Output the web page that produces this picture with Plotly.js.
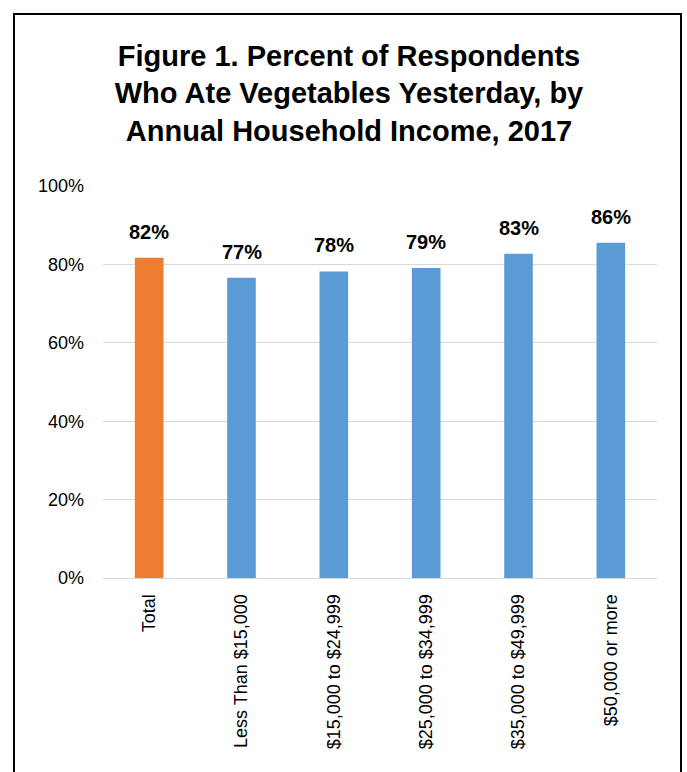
<!DOCTYPE html>
<html>
<head>
<meta charset="utf-8">
<script src="https://cdn.plot.ly/plotly-3.0.1.min.js"></script>
<style>
  body { margin: 0; padding: 0; background: #fff; }
  #wrap { position: relative; width: 687px; height: 772px; overflow: hidden; }
  #chart { position: absolute; left: 0; top: 0; width: 687px; height: 772px; }
  #frame { position: absolute; left: 13px; top: 13px; width: 665px; height: 800px; border: 2px solid #000; pointer-events: none; }
</style>
</head>
<body>
<div id="wrap">
  <div id="chart"></div>
  <div id="frame"></div>
</div>
<script>
const categories = ["Total", "Less Than $15,000", "$15,000 to $24,999", "$25,000 to $34,999", "$35,000 to $49,999", "$50,000 or more"];
const values = [81.7, 76.6, 78.2, 79.1, 82.7, 85.5];
const labels = ["82%", "77%", "78%", "79%", "83%", "86%"];
const barColors = ["#ed7d31", "#5b9bd5", "#5b9bd5", "#5b9bd5", "#5b9bd5", "#5b9bd5"];
const yTickVals = [0, 20, 40, 60, 80, 100];
const yTickText = ["0%", "20%", "40%", "60%", "80%", "100%"];

const trace = {
  type: "bar",
  x: categories,
  y: values,
  marker: { color: barColors },
  hoverinfo: "none"
};

const annotations = categories.map((c, i) => ({
  x: c, y: values[i], xref: "x", yref: "y",
  text: "<b>" + labels[i] + "</b>",
  showarrow: false,
  yanchor: "bottom",
  yshift: 13,
  font: { family: "Liberation Sans, Arial", size: 20, color: "#000" }
}));

const layout = {
  width: 687, height: 772,
  margin: { l: 103, r: 30, t: 186, b: 194 },
  paper_bgcolor: "#fff", plot_bgcolor: "#fff",
  bargap: 0.69,
  showlegend: false,
  annotations: annotations,
  title: {
    text: "<b>Figure 1. Percent of Respondents<br>Who Ate Vegetables Yesterday, by<br>Annual Household Income, 2017</b>",
    font: { family: "Liberation Sans, Arial", size: 29, color: "#000" },
    xref: "container", x: 0.508, xanchor: "center",
    yref: "container", y: 0.915, yanchor: "top"
  },
  xaxis: {
    type: "category",
    tickangle: -90,
    tickfont: { family: "Liberation Sans, Arial", size: 18, color: "#000" },
    showgrid: false,
    showline: true, linecolor: "#d9d9d9", linewidth: 1,
    ticks: "", ticklabelstandoff: 8
  },
  yaxis: {
    range: [0, 100],
    tickvals: yTickVals,
    ticktext: yTickText,
    tickfont: { family: "Liberation Sans, Arial", size: 18, color: "#000" },
    showgrid: true, gridcolor: "#d9d9d9", gridwidth: 1,
    zeroline: false, showline: false, ticks: "",
    ticklabelstandoff: 18
  }
};

Plotly.newPlot("chart", [trace], layout, { displayModeBar: false, staticPlot: true });
</script>
</body>
</html>
